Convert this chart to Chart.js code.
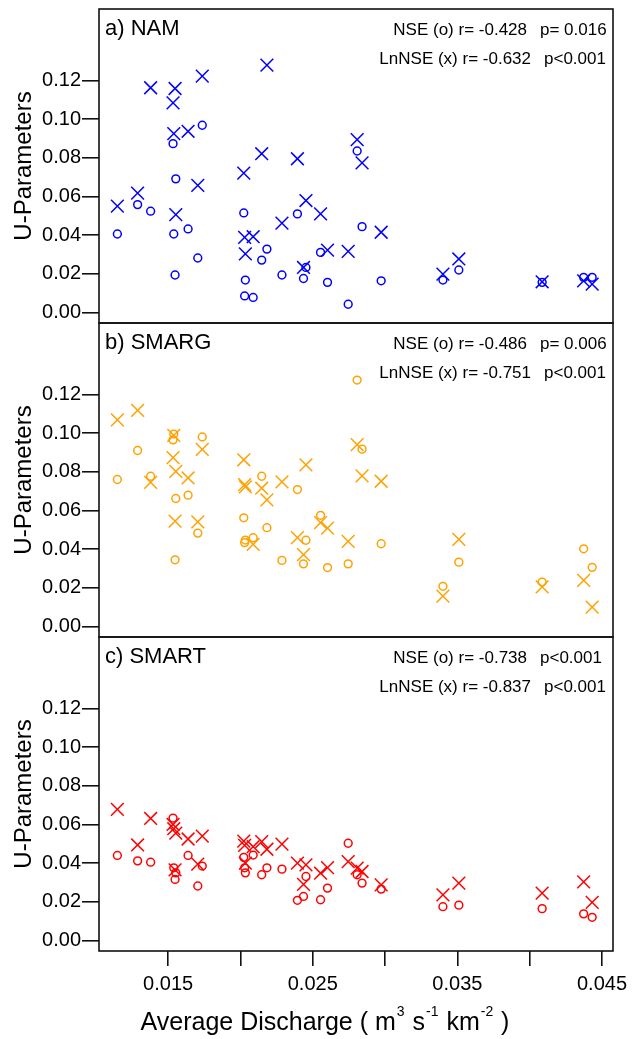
<!DOCTYPE html>
<html>
<head>
<meta charset="utf-8">
<script src="https://cdn.jsdelivr.net/npm/chart.js@4.4.0/dist/chart.umd.min.js"></script>
<style>
  body { margin: 0; background: #fff; }
  #wrap { position: relative; width: 635px; height: 1039px; overflow: hidden; }
  #wrap canvas { position: absolute; left: 0; }
</style>
</head>
<body>
<div id="wrap">
  <canvas id="panelA" width="635" height="324" style="top:4px"></canvas>
  <canvas id="panelB" width="635" height="324" style="top:318px"></canvas>
  <canvas id="panelC" width="635" height="407" style="top:632px"></canvas>
</div>
<script>
// ── Data ─────────────────────────────────────────────────────────────────────

// average discharge of each catchment (m3 s-1 km-2), shared by all panels
const discharge = [
  0.01149, 0.01289, 0.01379, 0.01534, 0.01539, 0.01548, 0.01553, 0.01638,
  0.01705, 0.01736, 0.02023, 0.02029, 0.02034, 0.02088, 0.02147, 0.02183,
  0.02287, 0.02394, 0.02436, 0.02453, 0.02554, 0.02602, 0.02745, 0.02807,
  0.02841, 0.02973, 0.03400, 0.03510, 0.04086, 0.04373, 0.04432,
];

// a) NAM
const namNse = [
  0.0406, 0.0558, 0.0524, 0.0873, 0.0406, 0.0194, 0.0691, 0.0432,
  0.0282, 0.0968, 0.0515, 0.0086, 0.0168, 0.0078, 0.0271, 0.0328,
  0.0194, 0.0510, 0.0176, 0.0233, 0.0311, 0.0156, 0.0043, 0.0835,
  0.0444, 0.0164, 0.0168, 0.0220, 0.0156, 0.0182, 0.0182,
];
const namLnNse = [
  0.0550, 0.0617, 0.1162, 0.1084, 0.0925, 0.1158, 0.0506, 0.0937,
  0.0657, 0.1222, 0.0721, 0.0389, 0.0303, 0.0392, 0.0821, 0.1279,
  0.0462, 0.0795, 0.0233, 0.0579, 0.0510, 0.0323, 0.0316, 0.0894,
  0.0774, 0.0415, 0.0199, 0.0277, 0.0159, 0.0164, 0.0147,
];

// b) SMARG
const smargNse = [
  0.0760, 0.0910, 0.0777, 0.0965, 0.0995, 0.0345, 0.0662, 0.0679,
  0.0483, 0.0980, 0.0562, 0.0434, 0.0447, 0.0459, 0.0777, 0.0511,
  0.0342, 0.0708, 0.0324, 0.0446, 0.0575, 0.0305, 0.0324, 0.1274,
  0.0917, 0.0428, 0.0208, 0.0333, 0.0230, 0.0402, 0.0306,
];
const smargLnNse = [
  0.1068, 0.1117, 0.0745, 0.0873, 0.0988, 0.0545, 0.0802, 0.0768,
  0.0541, 0.0916, 0.0862, 0.0734, 0.0722, 0.0425, 0.0715, 0.0655,
  0.0748, 0.0460, 0.0372, 0.0836, 0.0537, 0.0509, 0.0440, 0.0940,
  0.0779, 0.0751, 0.0157, 0.0451, 0.0205, 0.0239, 0.0100,
];

// c) SMART
const smartNse = [
  0.0440, 0.0412, 0.0405, 0.0633, 0.0376, 0.0316, 0.0350, 0.0440,
  0.0282, 0.0385, 0.0430, 0.0376, 0.0350, 0.0442, 0.0340, 0.0376,
  0.0369, 0.0208, 0.0228, 0.0331, 0.0211, 0.0271, 0.0503, 0.0340,
  0.0297, 0.0266, 0.0175, 0.0183, 0.0165, 0.0138, 0.0120,
];
const smartLnNse = [
  0.0678, 0.0494, 0.0631, 0.0600, 0.0578, 0.0365, 0.0555, 0.0525,
  0.0395, 0.0540, 0.0514, 0.0492, 0.0400, 0.0485, 0.0511, 0.0472,
  0.0498, 0.0400, 0.0290, 0.0391, 0.0348, 0.0377, 0.0408, 0.0374,
  0.0357, 0.0288, 0.0236, 0.0297, 0.0245, 0.0303, 0.0197,
];

// axes and text
const uTicks = [0, 0.02, 0.04, 0.06, 0.08, 0.10, 0.12];
const dischargeTicks = [0.015, 0.020, 0.025, 0.030, 0.035, 0.040, 0.045];
const dischargeLabels = [0.015, 0.025, 0.035, 0.045];
const panelNames = ["a) NAM", "b) SMARG", "c) SMART"];
const nseStats = ["NSE (o) r= -0.428", "NSE (o) r= -0.486", "NSE (o) r= -0.738"];
const nseP = ["p= 0.016", "p= 0.006", "p<0.001"];
const lnStats = ["LnNSE (x) r= -0.632", "LnNSE (x) r= -0.751", "LnNSE (x) r= -0.837"];
const lnP = ["p<0.001", "p<0.001", "p<0.001"];
const yTitle = "U-Parameters";
// x title pieces: [text, superscript?]
const xTitleParts = [
  ["Average Discharge ( m", false], ["3", true], [" s", false],
  ["-1", true], [" km", false], ["-2", true], [" )", false],
];

// ── Styling ──────────────────────────────────────────────────────────────────

const FONT = '"Liberation Sans", Arial, sans-serif';
const X_MIN = 0.01022, X_MAX = 0.04576;
const Y_MIN = -0.0054, Y_MAX = 0.1569;

Chart.defaults.font.family = FONT;
Chart.defaults.color = "#000";

function panelDecor(idx) {
  return {
    id: "panelDecor",
    afterDraw(chart) {
      const { ctx, chartArea: a } = chart;
      ctx.save();
      ctx.strokeStyle = "#111";
      ctx.lineWidth = 1.6;
      ctx.strokeRect(a.left, a.top, a.right - a.left, a.bottom - a.top);

      ctx.fillStyle = "#000";
      ctx.textBaseline = "alphabetic";
      ctx.textAlign = "left";
      ctx.font = `22px ${FONT}`;
      ctx.fillText(panelNames[idx], a.left + 6, a.top + 26);

      ctx.font = `17px ${FONT}`;
      ctx.textAlign = "right";
      ctx.fillText(nseStats[idx], 527, a.top + 26);
      ctx.fillText(lnStats[idx], 531, a.top + 55);
      ctx.textAlign = "left";
      ctx.fillText(nseP[idx], 540, a.top + 26);
      ctx.fillText(lnP[idx], 544, a.top + 55);
      ctx.restore();
    },
  };
}

const xTitlePlugin = {
  id: "xTitle",
  afterDraw(chart) {
    const ctx = chart.ctx;
    const main = `25px ${FONT}`, sup = `14px ${FONT}`;
    ctx.save();
    ctx.fillStyle = "#000";
    ctx.textAlign = "left";
    ctx.textBaseline = "alphabetic";
    let total = 0;
    for (const [t, s] of xTitleParts) {
      ctx.font = s ? sup : main;
      total += ctx.measureText(t).width + (s ? 2 : 0);
    }
    let x = 325 - total / 2;
    const base = chart.height - 9;
    for (const [t, s] of xTitleParts) {
      ctx.font = s ? sup : main;
      if (s) x += 1;
      ctx.fillText(t, x, s ? base - 14 : base);
      x += ctx.measureText(t).width + (s ? 1 : 0);
    }
    ctx.restore();
  },
};

function makePanel(id, idx, nse, lnNse, color, bottom) {
  const plugins = [panelDecor(idx)];
  if (bottom) plugins.push(xTitlePlugin);

  return new Chart(document.getElementById(id), {
    type: "scatter",
    data: {
      datasets: [
        {
          label: "NSE",
          data: discharge.map((x, i) => ({ x, y: nse[i] })),
          pointStyle: "circle",
          radius: 3.9,
          borderWidth: 1.5,
          borderColor: color,
          backgroundColor: "rgba(0,0,0,0)",
        },
        {
          label: "LnNSE",
          data: discharge.map((x, i) => ({ x, y: lnNse[i] })),
          pointStyle: "crossRot",
          radius: 9,
          borderWidth: 1.5,
          borderColor: color,
          backgroundColor: color,
        },
      ],
    },
    options: {
      responsive: false,
      animation: false,
      events: [],
      layout: {
        autoPadding: false,
        padding: { top: 5, bottom: bottom ? 0 : 5, left: 0, right: 22 },
      },
      plugins: { legend: { display: false }, tooltip: { enabled: false } },
      scales: {
        x: {
          type: "linear",
          min: X_MIN,
          max: X_MAX,
          display: bottom,
          border: { display: false },
          grid: { drawOnChartArea: false, tickLength: 15, color: "#111", lineWidth: 1.6 },
          ticks: {
            font: { size: 20 },
            color: "#000",
            padding: 6,
            maxRotation: 0,
            autoSkip: false,
            callback(value) {
              return dischargeLabels.some(l => Math.abs(l - value) < 1e-9) ? value.toFixed(3) : "";
            },
          },
          afterBuildTicks(scale) {
            scale.ticks = dischargeTicks.map(value => ({ value }));
          },
          afterFit(scale) {
            if (bottom) scale.height = 88;
            scale.paddingLeft = 0;
            scale.paddingRight = 0;
          },
        },
        y: {
          type: "linear",
          min: Y_MIN,
          max: Y_MAX,
          border: { display: false },
          grid: { drawOnChartArea: false, tickLength: 17, color: "#111", lineWidth: 1.6 },
          ticks: {
            font: { size: 20 },
            color: "#000",
            padding: 1,
            callback: value => value.toFixed(2),
          },
          title: {
            display: true,
            text: yTitle,
            font: { size: 24 },
            color: "#000",
            padding: { top: 10, bottom: 0 },
          },
          afterBuildTicks(scale) {
            scale.ticks = uTicks.map(value => ({ value }));
          },
          afterFit(scale) {
            scale.width = 99;
            scale.paddingTop = 0;
            scale.paddingBottom = 0;
          },
        },
      },
    },
    plugins,
  });
}

makePanel("panelA", 0, namNse, namLnNse, "#0000ff", false);
makePanel("panelB", 1, smargNse, smargLnNse, "#ffa200", false);
makePanel("panelC", 2, smartNse, smartLnNse, "#ff0000", true);
</script>
</body>
</html>
